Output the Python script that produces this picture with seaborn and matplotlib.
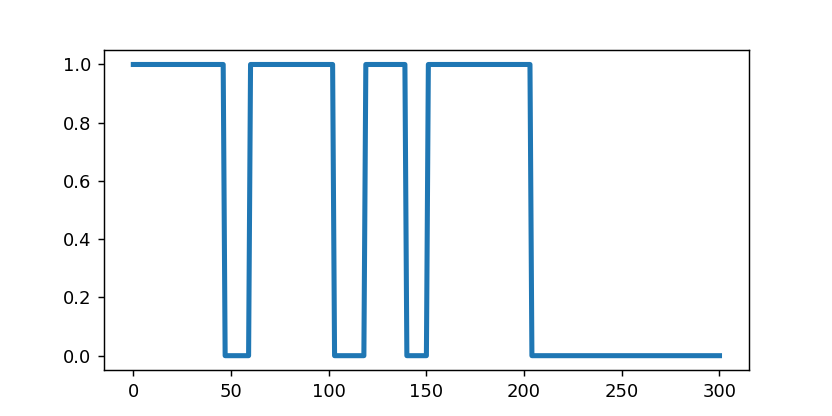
import numpy as np
import pandas as pd
import matplotlib
matplotlib.use("Agg")
import matplotlib.pyplot as plt
import seaborn as sns

# step signal: first sample of each run and its level
run_start = [0, 47, 60, 103, 119, 140, 151, 204]
run_level = [1, 0, 1, 0, 1, 0, 1, 0]
last_sample = 300

# expand runs into one sample per integer step
run_len = np.diff(run_start + [last_sample + 1])
t = np.arange(last_sample + 1)
state = np.repeat(run_level, run_len)
df = pd.DataFrame({"t": t, "state": state})

fig, ax = plt.subplots(figsize=(6.4, 3.2), dpi=130)
sns.lineplot(data=df, x="t", y="state", ax=ax, linewidth=2.8, color="#1f77b4")
ax.set_xlabel("")
ax.set_ylabel("")

fig.savefig("out.png", dpi=130)
